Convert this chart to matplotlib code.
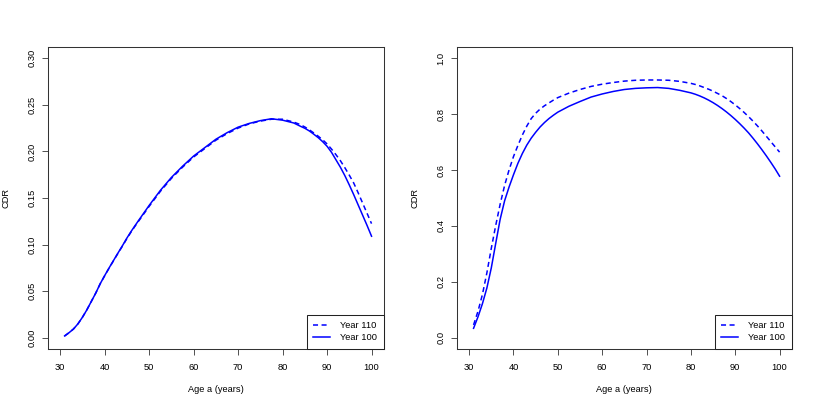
import matplotlib
matplotlib.use("Agg")
import matplotlib.pyplot as plt

plt.rcParams['font.family'] = ['Liberation Sans', 'DejaVu Sans']

# Left panel data
age_left = [31, 32, 33, 34, 35, 36, 37, 38, 39, 40, 41, 42, 43, 44, 45, 46, 47, 47.5,
            50, 52.5, 55, 57.5, 60, 62.5, 65, 67.5, 70, 72.5, 75, 77.5, 80, 82.5, 84,
            85, 86, 87, 88, 89, 90, 91, 92, 93, 94, 95, 96, 97, 98, 99, 100]
cdr_left_y100 = [0.002, 0.0055, 0.0095, 0.015, 0.022, 0.030, 0.039, 0.048, 0.058, 0.0667,
                 0.075, 0.083, 0.091, 0.0988, 0.107, 0.1145, 0.1215, 0.125,
                 0.142, 0.158, 0.172, 0.184, 0.195, 0.204, 0.213, 0.220, 0.226, 0.230,
                 0.233, 0.235, 0.2335, 0.2305, 0.227,
                 0.2248, 0.222, 0.2185, 0.2148, 0.2105, 0.2055, 0.199, 0.191, 0.183,
                 0.174, 0.164, 0.1535, 0.1425, 0.1315, 0.1205, 0.109]
cdr_left_y110 = [0.002, 0.0055, 0.0095, 0.015, 0.022, 0.030, 0.039, 0.048, 0.058, 0.0665,
                 0.0748, 0.0828, 0.0907, 0.0984, 0.1065, 0.114, 0.121, 0.1243,
                 0.141, 0.157, 0.171, 0.183, 0.194, 0.203, 0.212, 0.219, 0.225, 0.2295,
                 0.2325, 0.2345, 0.2345, 0.2315, 0.2287,
                 0.2262, 0.2232, 0.2198, 0.2163, 0.2125, 0.208, 0.2025, 0.1965, 0.19,
                 0.1825, 0.1745, 0.166, 0.1555, 0.1445, 0.1335, 0.1225]

# Right panel data
age_right = [31, 32, 33, 34, 35, 36, 37, 38, 39, 40, 41, 42, 43, 44, 45, 46, 47, 48, 49,
             50, 52.5, 55, 57.5, 60, 62.5, 65, 67.5, 70, 72.5, 75, 77.5, 80, 81, 82,
             83, 84, 85, 86, 87, 88, 89, 90, 91, 92, 93, 94, 95, 96, 97, 98, 99, 100]
cdr_right_y100 = [0.034, 0.075, 0.122, 0.178, 0.25, 0.338, 0.424, 0.49, 0.539, 0.583,
                  0.624, 0.659, 0.689, 0.714, 0.735, 0.754, 0.77, 0.784, 0.796,
                  0.807, 0.828, 0.845, 0.861, 0.872, 0.881, 0.888, 0.892, 0.894, 0.895,
                  0.892, 0.885, 0.876, 0.871, 0.865,
                  0.858, 0.850, 0.841, 0.831, 0.820, 0.808, 0.795, 0.781, 0.766, 0.750,
                  0.733, 0.714, 0.694, 0.673, 0.651, 0.628, 0.604, 0.578]
cdr_right_y110 = [0.046, 0.095, 0.155, 0.232, 0.32, 0.402, 0.478, 0.545, 0.6, 0.648,
                  0.688, 0.725, 0.757, 0.784, 0.803, 0.818, 0.83, 0.84, 0.85,
                  0.859, 0.875, 0.888, 0.899, 0.907, 0.913, 0.918, 0.921, 0.922, 0.922,
                  0.921, 0.917, 0.910, 0.906, 0.901,
                  0.895, 0.889, 0.882, 0.874, 0.866, 0.856, 0.845, 0.833, 0.820, 0.806,
                  0.791, 0.775, 0.758, 0.740, 0.721, 0.702, 0.683, 0.664]

xticks = [30, 40, 50, 60, 70, 80, 90, 100]
yticks_left = [0.00, 0.05, 0.10, 0.15, 0.20, 0.25, 0.30]
yticks_right = [0.0, 0.2, 0.4, 0.6, 0.8, 1.0]

fig = plt.figure(figsize=(8.17, 4.09), dpi=100)
ax1 = fig.add_axes([0.0584, 0.1467, 0.4116, 0.7384])
ax2 = fig.add_axes([0.559, 0.1467, 0.4104, 0.7384])

fs = 6.7
blue = '#0000FF'

def style(ax, x, y100, y110, yticks, ylim, yfmt):
    ax.plot(x, y110, color=blue, lw=1.1, dashes=(3.3, 2.3), label='Year 110')
    ax.plot(x, y100, color=blue, lw=1.1, label='Year 100')
    ax.set_xlim(27.2, 102.8)
    ax.set_ylim(*ylim)
    ax.set_xticks(xticks)
    ax.set_xticklabels([str(t) for t in xticks], fontsize=fs)
    ax.set_yticks(yticks)
    ax.set_yticklabels([yfmt.format(t) for t in yticks], fontsize=fs, rotation=90, va='center')
    ax.tick_params(direction='out', length=4.3, width=0.6, color='#333333')
    ax.tick_params(axis='x', pad=5.5)
    ax.tick_params(axis='y', pad=4)
    for s in ax.spines.values():
        s.set_linewidth(0.75)
        s.set_color('#333333')
    ax.set_xlabel('Age a (years)', fontsize=fs, labelpad=10)
    ax.set_ylabel('CDR', fontsize=fs, labelpad=12)
    leg = ax.legend(loc='lower right', fontsize=fs, fancybox=False, framealpha=1,
                    edgecolor='#222222', borderaxespad=0, handlelength=1.8,
                    handletextpad=1.15, borderpad=0.7, labelspacing=0.35)
    leg.get_frame().set_linewidth(0.75)

style(ax1, age_left, cdr_left_y100, cdr_left_y110, yticks_left, (-0.012, 0.312), '{:.2f}')
style(ax2, age_right, cdr_right_y100, cdr_right_y110, yticks_right, (-0.04, 1.04), '{:.1f}')

fig.savefig('out.png', dpi=100)
